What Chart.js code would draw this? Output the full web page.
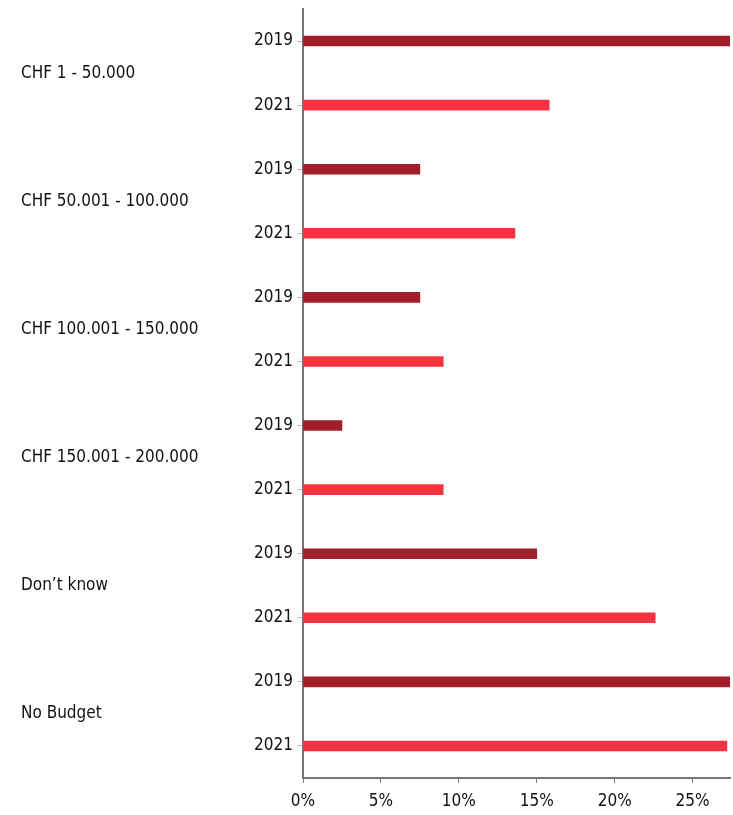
<!DOCTYPE html>
<html>
<head>
<meta charset="utf-8">
<title>Budget</title>
<script src="https://cdn.jsdelivr.net/npm/chart.js@4"></script>
<style>
    html, body { margin: 0; padding: 0; background: #fff; }
    #wrap { position: relative; width: 733px; height: 815px; }
</style>
</head>
<body>
<div id="wrap"><canvas id="budgetChart"></canvas></div>
<script>
// Budget brackets, two survey years per bracket
const groups = ['CHF 1 - 50.000', 'CHF 50.001 - 100.000', 'CHF 100.001 - 150.000', 'CHF 150.001 - 200.000', 'Don\u2019t know', 'No Budget'];
const years = ['2019', '2021'];
const share2019 = [27.4, 7.5, 7.5, 2.5, 15.0, 27.4];
const share2021 = [15.8, 13.6, 9.0, 9.0, 22.6, 27.2];
const xTickValues = [0, 5, 10, 15, 20, 25];

const yearColors = { '2019': '#a01f2b', '2021': '#f5333f' };
const FONT = "'Liberation Sans Narrow', 'DejaVu Sans Condensed', 'Roboto', sans-serif";
const TEXT = '#111111';
const AXIS = '#767676';

// one row per (bracket, year)
const rowLabels = [];
const rowValues = [];
const rowColors = [];
groups.forEach((g, i) => {
    const vals = [share2019[i], share2021[i]];
    years.forEach((y, j) => {
        rowLabels.push(y);
        rowValues.push(vals[j]);
        rowColors.push(yearColors[y]);
    });
});

// keep the axes from adding their own label overhang to the layout
const noOverhang = s => {
    s.paddingTop = 0;
    s.paddingBottom = 0;
};

const ctx = document.getElementById('budgetChart').getContext('2d');
new Chart(ctx, {
    type: 'bar',
    data: {
        labels: rowLabels,
        datasets: [{
            data: rowValues,
            backgroundColor: rowColors,
            barThickness: 10,
            yAxisID: 'y'
        }]
    },
    options: {
        indexAxis: 'y',
        responsive: true,
        maintainAspectRatio: false,
        animation: false,
        layout: { padding: { top: 9, right: 3, left: 21, bottom: 0 } },
        plugins: { legend: { display: false }, tooltip: { enabled: false } },
        scales: {
            y: {
                type: 'category',
                position: 'left',
                weight: 0,
                border: { display: true, color: AXIS, width: 2 },
                grid: { offset: false, drawOnChartArea: false, drawTicks: true, tickLength: 6, color: '#bdbdbd' },
                ticks: { color: TEXT, font: { family: FONT, size: 17 }, padding: 4 },
                afterFit: s => { s.width = 50; noOverhang(s); }
            },
            yGroup: {
                type: 'category',
                labels: groups,
                position: 'left',
                weight: 1,
                offset: true,
                border: { display: false },
                grid: { display: false, drawTicks: false },
                ticks: { color: TEXT, font: { family: FONT, size: 17 }, crossAlign: 'far', padding: 0 },
                afterFit: s => { s.width = 232; noOverhang(s); }
            },
            x: {
                min: 0,
                max: 27.4,
                border: { display: true, color: AXIS, width: 2 },
                grid: { drawOnChartArea: false, drawTicks: true, tickLength: 5, color: AXIS },
                afterBuildTicks: s => { s.ticks = xTickValues.map(v => ({ value: v })); },
                ticks: {
                    color: TEXT,
                    font: { family: FONT, size: 17 },
                    padding: 8,
                    maxRotation: 0,
                    callback: v => v + '%'
                },
                afterFit: s => { s.height = 37; }
            }
        }
    }
});
</script>
</body>
</html>
